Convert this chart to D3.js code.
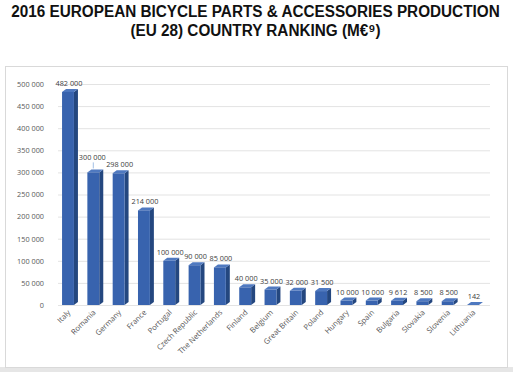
<!DOCTYPE html>
<html>
<head>
<meta charset="utf-8">
<script src="https://cdn.jsdelivr.net/npm/d3@7"></script>
<style>
  body { margin: 0; background: #fff; }
  svg { display: block; }
</style>
</head>
<body>
<svg id="chart"></svg>
<script>
// Chart data
const countries = ["Italy", "Romania", "Germany", "France", "Portugal", "Czech Republic",
  "The Netherlands", "Finland", "Belgium", "Great Britain", "Poland", "Hungary",
  "Spain", "Bulgaria", "Slovakia", "Slovenia", "Lithuania"];
const production = [482000, 300000, 298000, 214000, 100000, 90000, 85000, 40000,
  35000, 32000, 31500, 10000, 10000, 9612, 8500, 8500, 142];
const valueLabels = ["482 000", "300 000", "298 000", "214 000", "100 000", "90 000",
  "85 000", "40 000", "35 000", "32 000", "31 500", "10 000", "10 000", "9 612",
  "8 500", "8 500", "142"];
const yTicks = [0, 50000, 100000, 150000, 200000, 250000, 300000, 350000, 400000, 450000, 500000];
const titleLines = ["2016 EUROPEAN BICYCLE PARTS & ACCESSORIES PRODUCTION", "(EU 28) COUNTRY RANKING (M\u20AC\u2079)"];

const width = 513, height = 372;
const svg = d3.select("#chart").attr("width", width).attr("height", height);

// light grey strip under the panel
svg.append("rect").attr("x", 0).attr("y", 367).attr("width", width).attr("height", 5).attr("fill", "#e6e6e6");

// Panel
svg.append("rect")
  .attr("x", 5.5).attr("y", 66.5).attr("width", 502).attr("height", 301)
  .attr("fill", "#fff").attr("stroke", "#d9d9d9");

// Title (slightly condensed, like the original)
const titleG = svg.append("g").attr("transform", `translate(${width / 2 - 1},0) scale(0.9,1)`);
titleG.selectAll("text")
  .data(titleLines)
  .enter().append("text")
  .attr("x", 0)
  .attr("y", (d, i) => 17 + i * 19)
  .attr("text-anchor", "middle")
  .attr("font-family", "Liberation Sans, Arial, sans-serif")
  .attr("font-weight", "bold")
  .attr("font-size", 17)
  .attr("fill", "#111")
  .text(d => d);

// Scales
const x = d3.scaleBand().domain(countries).range([58, 483]).paddingInner(0.53).paddingOuter(0.16);
const y = d3.scaleLinear().domain([0, 500000]).range([305, 84]);

// Gridlines
svg.append("g").selectAll("line")
  .data(yTicks)
  .enter().append("line")
  .attr("x1", 58).attr("x2", 490)
  .attr("y1", d => y(d) + 0.5).attr("y2", d => y(d) + 0.5)
  .attr("stroke", "#e3e3e3").attr("stroke-width", 1);

// Y axis labels
const yAxis = d3.axisLeft(y).tickValues(yTicks).tickSize(0).tickPadding(0)
  .tickFormat(d => d3.format(",")(d).replace(/,/g, " "));
const yG = svg.append("g").attr("transform", "translate(44,0)").call(yAxis);
yG.select(".domain").remove();
yG.selectAll("text").attr("font-family", "Open Sans, sans-serif").attr("font-size", 7.3).attr("fill", "#595959");

// 3D bars
const dx = 4, dy = 3;
const bw = x.bandwidth();
const bars = svg.append("g").selectAll("g")
  .data(countries)
  .enter().append("g");

// side face
bars.append("path")
  .attr("d", (d, i) => {
    const x0 = x(d) + bw, yt = y(production[i]), yb = y(0);
    return `M${x0},${yt}L${x0 + dx},${yt - dy}L${x0 + dx},${yb - dy}L${x0},${yb}Z`;
  })
  .attr("fill", "#24477f");
// top face
bars.append("path")
  .attr("d", (d, i) => {
    const x0 = x(d), yt = y(production[i]);
    return `M${x0},${yt}L${x0 + dx},${yt - dy}L${x0 + bw + dx},${yt - dy}L${x0 + bw},${yt}Z`;
  })
  .attr("fill", "#4f79c0");
// front face
bars.append("rect")
  .attr("x", d => x(d))
  .attr("y", (d, i) => y(production[i]))
  .attr("width", bw)
  .attr("height", (d, i) => y(0) - y(production[i]))
  .attr("fill", "#3863ae");

// value labels
const labelG = svg.append("g");
const labels = labelG.selectAll("text")
  .data(countries)
  .enter().append("text")
  .attr("x", d => x(d) + bw / 2 + 1)
  .attr("y", (d, i) => y(production[i]) - 6)
  .attr("text-anchor", "middle")
  .attr("font-family", "Open Sans, sans-serif")
  .attr("font-size", 7.3)
  .attr("fill", "#404040")
  .text((d, i) => valueLabels[i]);

// lift a label that collides with its right neighbour, with a small leader line
const nodes = labels.nodes();
nodes.forEach((n, i) => {
  if (i === nodes.length - 1) return;
  const a = n.getBBox(), b = nodes[i + 1].getBBox();
  if (a.x + a.width > b.x + 1 && Math.abs(a.y - b.y) < a.height) {
    const cx = x(countries[i]) + bw / 2;
    const yTop = y(production[i]) - dy;
    d3.select(n).attr("y", +d3.select(n).attr("y") - 6).attr("x", +d3.select(n).attr("x") - 2);
    labelG.append("line")
      .attr("x1", cx).attr("x2", cx)
      .attr("y1", yTop - 7).attr("y2", yTop - 1)
      .attr("stroke", "#8ab0e0").attr("stroke-width", 0.8);
  }
});

// X axis labels
svg.append("g").selectAll("text")
  .data(countries)
  .enter().append("text")
  .attr("transform", d => `translate(${x(d) + bw / 2 + 3},${313}) rotate(-45)`)
  .attr("text-anchor", "end")
  .attr("font-family", "Open Sans, sans-serif")
  .attr("font-size", 7.6)
  .attr("fill", "#595959")
  .text(d => d);
</script>
</body>
</html>
